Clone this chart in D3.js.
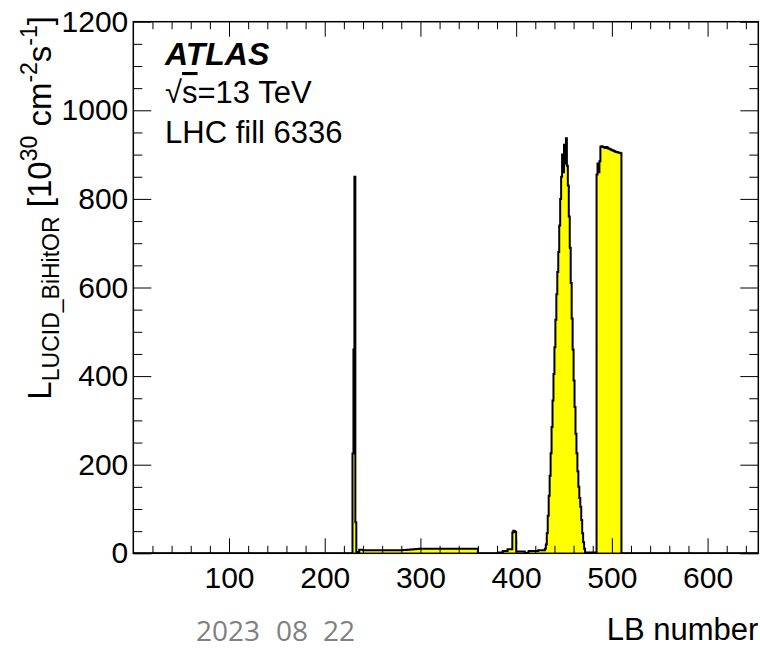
<!DOCTYPE html>
<html>
<head>
<meta charset="utf-8">
<script src="https://cdn.jsdelivr.net/npm/d3@7"></script>
<style>
    body { margin: 0; background: #fff; }
    svg text { font-family: "Liberation Sans", Arial, Helvetica, sans-serif; }
</style>
</head>
<body>
<script>
// luminosity per LB, stored as runs of blocks with the same value
// (first LB, last LB, value in 10^30 cm^-2 s^-1); everything else is 0
var lbFirst = [229, 230, 231, 232, 233, 234, 236, 240, 281, 286, 289, 292, 295, 298,
    300, 381, 386, 391, 396, 397, 398, 399, 400, 409, 413, 423,
    430, 431, 432, 433, 434, 435, 436, 437, 438, 439, 440, 441, 442, 443, 444,
    445, 446, 447, 448, 449, 450, 451, 452, 453, 454, 455, 456, 457, 458, 459,
    460, 461, 462, 463, 464, 465, 466, 467, 468, 469, 470, 471, 472,
    484, 485, 486, 487, 488, 489, 490, 491, 492, 493, 494, 495, 496, 497, 498,
    499, 500, 501, 502, 503, 504, 505, 506, 507, 508, 509];
var lbLast = [229, 230, 231, 232, 233, 235, 239, 280, 285, 288, 291, 294, 297, 299,
    359, 385, 390, 395, 396, 397, 398, 399, 408, 412, 422, 429,
    430, 431, 432, 433, 434, 435, 436, 437, 438, 439, 440, 441, 442, 443, 444,
    445, 446, 447, 448, 449, 450, 451, 452, 453, 454, 455, 456, 457, 458, 459,
    460, 461, 462, 463, 464, 465, 466, 467, 468, 469, 470, 471, 483,
    484, 485, 486, 487, 488, 489, 490, 491, 492, 493, 494, 495, 496, 497, 498,
    499, 500, 501, 502, 503, 504, 505, 506, 507, 508, 509];
var lumi = [225, 460, 850, 70, 1, 3, 8, 7, 7.5, 8, 8.5, 9, 9.5, 10,
    10, 2, 5, 9, 47, 51, 50, 48, 4, 1, 5, 7,
    10, 20, 45, 85, 130, 175, 226, 285, 345, 405, 465, 527, 585, 635, 680,
    740, 800, 850, 900, 860, 922, 880, 937, 875, 830, 760, 690, 610, 530, 460,
    390, 330, 270, 226, 185, 150, 125, 105, 75, 45, 25, 10, 2,
    855, 880, 860, 885, 918, 919, 918, 917, 916, 915, 917, 916, 914, 913, 912,
    911, 910, 909, 908, 907, 906, 906, 905, 904, 904, 903];

var xTicks = [100, 200, 300, 400, 500, 600];
var yTicks = [0, 200, 400, 600, 800, 1000, 1200];
var xRange = [0, 653];
var yRange = [0, 1200];

var W = 760, H = 648;
var margin = {top: 21.7, right: 1.7, bottom: 94.7, left: 133.3},
    width = W - margin.left - margin.right,
    height = H - margin.top - margin.bottom;

var x = d3.scaleLinear().domain(xRange).range([0, width]);
var y = d3.scaleLinear().domain(yRange).range([height, 0]);

var svg = d3.select("body").append("svg")
    .attr("width", W)
    .attr("height", H);

var g = svg.append("g")
    .attr("transform", "translate(" + margin.left + "," + margin.top + ")");

g.append("clipPath").attr("id", "frame")
    .append("rect").attr("width", width).attr("height", height);

// step points of the histogram, dropping to 0 only where runs are not adjacent
var pts = [[xRange[0], 0]];
var prevEnd = xRange[0];
for (var i = 0; i < lumi.length; i++) {
    if (lbFirst[i] != prevEnd) {
        pts.push([prevEnd, 0]);
        pts.push([lbFirst[i], 0]);
    }
    pts.push([lbFirst[i], lumi[i]]);
    pts.push([lbLast[i] + 1, lumi[i]]);
    prevEnd = lbLast[i] + 1;
}
pts.push([prevEnd, 0]);
pts.push([xRange[1], 0]);

var area = d3.area()
    .x(function(d) { return x(d[0]); })
    .y0(y(0))
    .y1(function(d) { return y(d[1]); });
var line = d3.line()
    .x(function(d) { return x(d[0]); })
    .y(function(d) { return y(d[1]); });

var hist = g.append("g").attr("clip-path", "url(#frame)");
hist.append("path").datum(pts)
    .attr("d", area)
    .attr("fill", "#ffff00");
hist.append("path").datum(pts)
    .attr("d", line)
    .attr("fill", "none")
    .attr("stroke", "#000")
    .attr("stroke-width", 2)
    .attr("stroke-linejoin", "miter");

// minor tick values
var xMinor = d3.range(0, xRange[1], 20).filter(function(d) { return d % 100 != 0; });
var yMinor = d3.range(0, yRange[1], 50).filter(function(d) { return d % 200 != 0; });

function clean(sel) {
    sel.select(".domain").remove();
    sel.selectAll("line").attr("stroke", "#000").attr("stroke-width", 1);
}

var fontSize = 30;
var fmt = d3.format("d");

// bottom axis
g.append("g").attr("transform", "translate(0," + height + ")")
    .call(d3.axisBottom(x).tickValues(xTicks).tickFormat(fmt)
        .tickSizeInner(-15).tickSizeOuter(0).tickPadding(13))
    .call(clean)
    .selectAll("text").attr("font-size", fontSize).attr("fill", "#000")
    .style("font-family", "'Liberation Sans', Arial, sans-serif");
g.append("g").attr("transform", "translate(0," + height + ")")
    .call(d3.axisBottom(x).tickValues(xMinor).tickSize(-7.5).tickFormat(""))
    .call(clean);
// top axis
g.append("g")
    .call(d3.axisTop(x).tickValues(xTicks).tickSize(-15).tickFormat(""))
    .call(clean);
g.append("g")
    .call(d3.axisTop(x).tickValues(xMinor).tickSize(-7.5).tickFormat(""))
    .call(clean);
// left axis
g.append("g")
    .call(d3.axisLeft(y).tickValues(yTicks).tickFormat(fmt)
        .tickSizeInner(-18).tickSizeOuter(0).tickPadding(5))
    .call(clean)
    .selectAll("text").attr("font-size", fontSize).attr("fill", "#000")
    .style("font-family", "'Liberation Sans', Arial, sans-serif");
g.append("g")
    .call(d3.axisLeft(y).tickValues(yMinor).tickSize(-9).tickFormat(""))
    .call(clean);
// right axis
g.append("g").attr("transform", "translate(" + width + ",0)")
    .call(d3.axisRight(y).tickValues(yTicks).tickSize(-18).tickFormat(""))
    .call(clean);
g.append("g").attr("transform", "translate(" + width + ",0)")
    .call(d3.axisRight(y).tickValues(yMinor).tickSize(-9).tickFormat(""))
    .call(clean);

// frame
g.append("rect")
    .attr("width", width).attr("height", height)
    .attr("fill", "none").attr("stroke", "#000").attr("stroke-width", 1.5);

// x title
svg.append("text")
    .attr("x", margin.left + width)
    .attr("y", 640)
    .attr("text-anchor", "end")
    .attr("font-size", 31)
    .text("LB number");

// y title
var yt = svg.append("text")
    .attr("transform", "translate(51," + 16 + ") rotate(-90)")
    .attr("text-anchor", "end")
    .attr("font-size", 33);
var parts = [
    ["L", 33, 0],
    ["LUCID_BiHitOR", 23, 8],
    [" [10", 33, -8],
    ["30", 23, -14],
    [" cm", 33, 14],
    ["-2", 23, -14],
    ["s", 33, 14],
    ["-1", 23, -14],
    ["]", 33, 14]
];
parts.forEach(function(p) {
    yt.append("tspan").attr("font-size", p[1]).attr("dy", p[2]).text(p[0]);
});

// ATLAS label
svg.append("text")
    .attr("x", 165).attr("y", 65)
    .attr("font-size", 32)
    .attr("font-weight", "bold")
    .attr("font-style", "italic")
    .text("ATLAS");

var sq = svg.append("text")
    .attr("x", 165).attr("y", 103)
    .attr("font-size", 31);
sq.append("tspan").text("\u221A");
sq.append("tspan").style("text-decoration", "overline").text("s");
sq.append("tspan").text("=13 TeV");

svg.append("text")
    .attr("x", 165).attr("y", 143)
    .attr("font-size", 31)
    .text("LHC fill 6336");

// date stamp
var dateParts = ["2023", "08", "22"];
var dateX = [196, 276, 323];
dateParts.forEach(function(t, i) {
    svg.append("text")
        .attr("x", dateX[i]).attr("y", 641)
        .attr("font-size", 28)
        .attr("fill", "#808080")
        .style("font-family", "'Open Sans', 'Noto Sans', sans-serif")
        .text(t);
});
</script>
</body>
</html>
